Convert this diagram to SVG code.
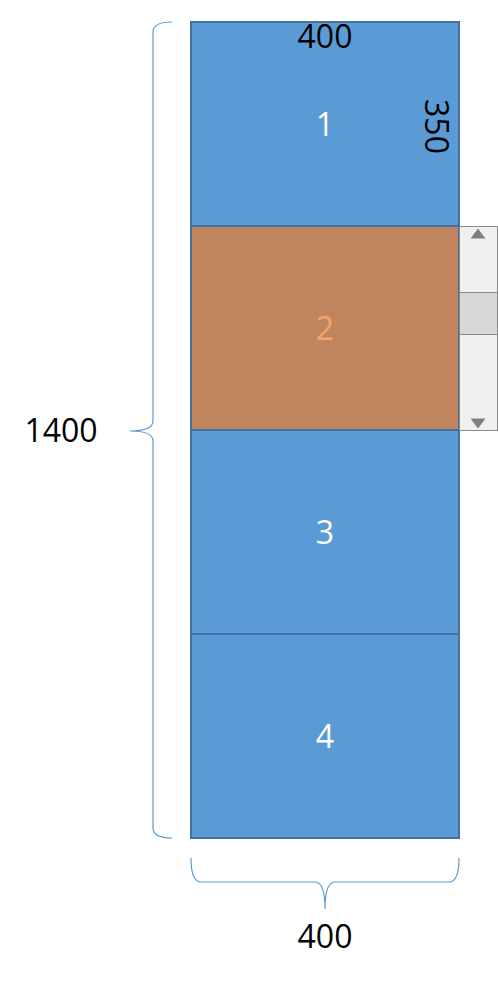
<svg xmlns="http://www.w3.org/2000/svg" width="498" height="981" viewBox="0 0 498 981">
<style>
.sec{fill:#5B9BD5;stroke:#41719C;stroke-width:2}
.lbl{font-family:"Open Sans","Liberation Sans",sans-serif;font-size:32px;text-anchor:middle}
.w{fill:#FFFFFF}
.k{fill:#000000}
.brace{fill:none;stroke:#5B9BD5;stroke-width:1.2}
</style>
<rect width="498" height="981" fill="#FFFFFF"/>
<g id="section1"><rect class="sec" x="191" y="22" width="268" height="204"/><text class="lbl w" x="325" y="136">1</text></g>
<g id="section2"><rect class="sec" x="191" y="226" width="268" height="204" fill="#C0845F" style="fill:#C0845F"/><text class="lbl" x="325" y="340" fill="#F4A46A">2</text></g>
<g id="section3"><rect class="sec" x="191" y="430" width="268" height="204"/><text class="lbl w" x="325" y="544">3</text></g>
<g id="section4"><rect class="sec" x="191" y="634" width="268" height="204"/><text class="lbl w" x="325" y="748">4</text></g>
<g id="scrollbar">
<rect x="459.5" y="226.5" width="38" height="204" fill="#F0F0F0" stroke="#8A8A8A" stroke-width="1"/>
<rect x="459.5" y="292.5" width="38" height="42" fill="#D7D7D7" stroke="#8A8A8A" stroke-width="1"/>
<polygon points="478,228.5 470.5,238.5 485.5,238.5" fill="#808080"/>
<polygon points="478,428.5 470.5,418.5 485.5,418.5" fill="#808080"/>
</g>
<g id="connectors">
<path class="brace" d="M172,22 Q153,22 153,32 L153,421 Q153,431 130,431 Q153,431 153,441 L153,828 Q153,838 172,838"/>
<path class="brace" d="M191,858 Q191,882 201,882 L315,882 Q325,882 325,909 Q325,882 335,882 L449,882 Q459,882 459,858"/>
</g>
<g id="labels">
<text class="lbl k" x="325" y="48">400</text>
<text class="lbl k" transform="translate(425,126.5) rotate(90)">350</text>
<text class="lbl k" x="61" y="442">1400</text>
<text class="lbl k" x="325" y="948">400</text>
</g>
</svg>
